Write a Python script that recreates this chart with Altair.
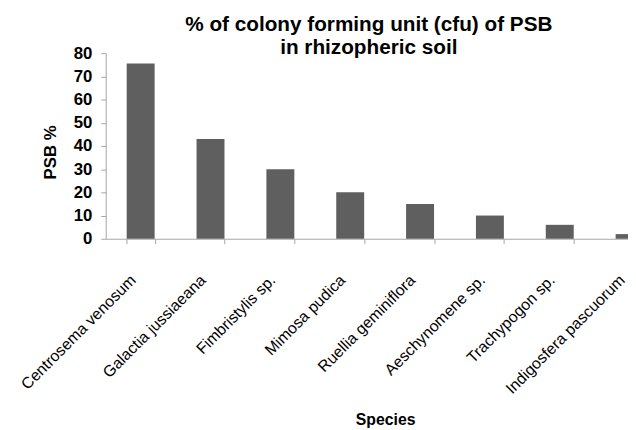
import altair as alt
import pandas as pd

species = [
    "Centrosema venosum",
    "Galactia jussiaeana",
    "Fimbristylis sp.",
    "Mimosa pudica",
    "Ruellia geminiflora",
    "Aeschynomene sp.",
    "Trachypogon sp.",
    "Indigosfera pascuorum",
]
psb = [75.5, 43, 30, 20, 15, 10, 6, 2]
y_ticks = [0, 10, 20, 30, 40, 50, 60, 70, 80]
title_lines = ["% of colony forming unit (cfu) of PSB", "in rhizopheric soil"]

df = pd.DataFrame({"Species": species, "PSB": psb})

FONT = "Liberation Sans"
AXIS_GREY = "#a6a6a6"

chart = (
    alt.Chart(df)
    .mark_bar(color="#5f5f5f")
    .encode(
        x=alt.X(
            "Species:N",
            sort=species,
            scale=alt.Scale(range=[0, 566], paddingInner=0.6, paddingOuter=0.3),
            axis=alt.Axis(
                title="Species",
                labelAngle=-45,
                labelAlign="right",
                labelBaseline="middle",
                labelPadding=34,
                labelOffset=-8,
                labelOverlap=False,
                labelLimit=0,
                tickSize=5,
                tickBand="extent",
                domainColor=AXIS_GREY,
                tickColor=AXIS_GREY,
                labelFont=FONT,
                labelFontSize=16,
                labelColor="#000000",
                titleFont=FONT,
                titleFontSize=16,
                titleFontWeight="bold",
                titleColor="#000000",
                titleY=188,
                titleBaseline="alphabetic",
            ),
        ),
        y=alt.Y(
            "PSB:Q",
            scale=alt.Scale(domain=[0, 80], nice=False),
            axis=alt.Axis(
                title="PSB %",
                values=y_ticks,
                grid=False,
                tickSize=5,
                labelPadding=9,
                domainColor=AXIS_GREY,
                tickColor=AXIS_GREY,
                labelFont=FONT,
                labelFontSize=17,
                labelFontWeight="bold",
                labelColor="#000000",
                titleFont=FONT,
                titleFontSize=17,
                titleFontWeight="bold",
                titleColor="#000000",
                titleX=-56,
                titleY=100,
                titleBaseline="middle",
            ),
        ),
    )
    .properties(
        width=529,
        height=188,
        autosize=alt.AutoSizeParams(type="none"),
        padding={"left": 99, "top": 43, "right": 0, "bottom": 191},
        title=alt.TitleParams(
            text=title_lines,
            font=FONT,
            fontSize=21,
            fontWeight="bold",
            color="#000000",
            anchor="middle",
            frame="group",
            offset=19,
            baseline="alphabetic",
            lineHeight=23,
            dx=2,
            dy=50,
        ),
    )
    .configure_view(stroke=None)
)

chart.save("out.html", embed_options={"renderer": "svg", "actions": False})
